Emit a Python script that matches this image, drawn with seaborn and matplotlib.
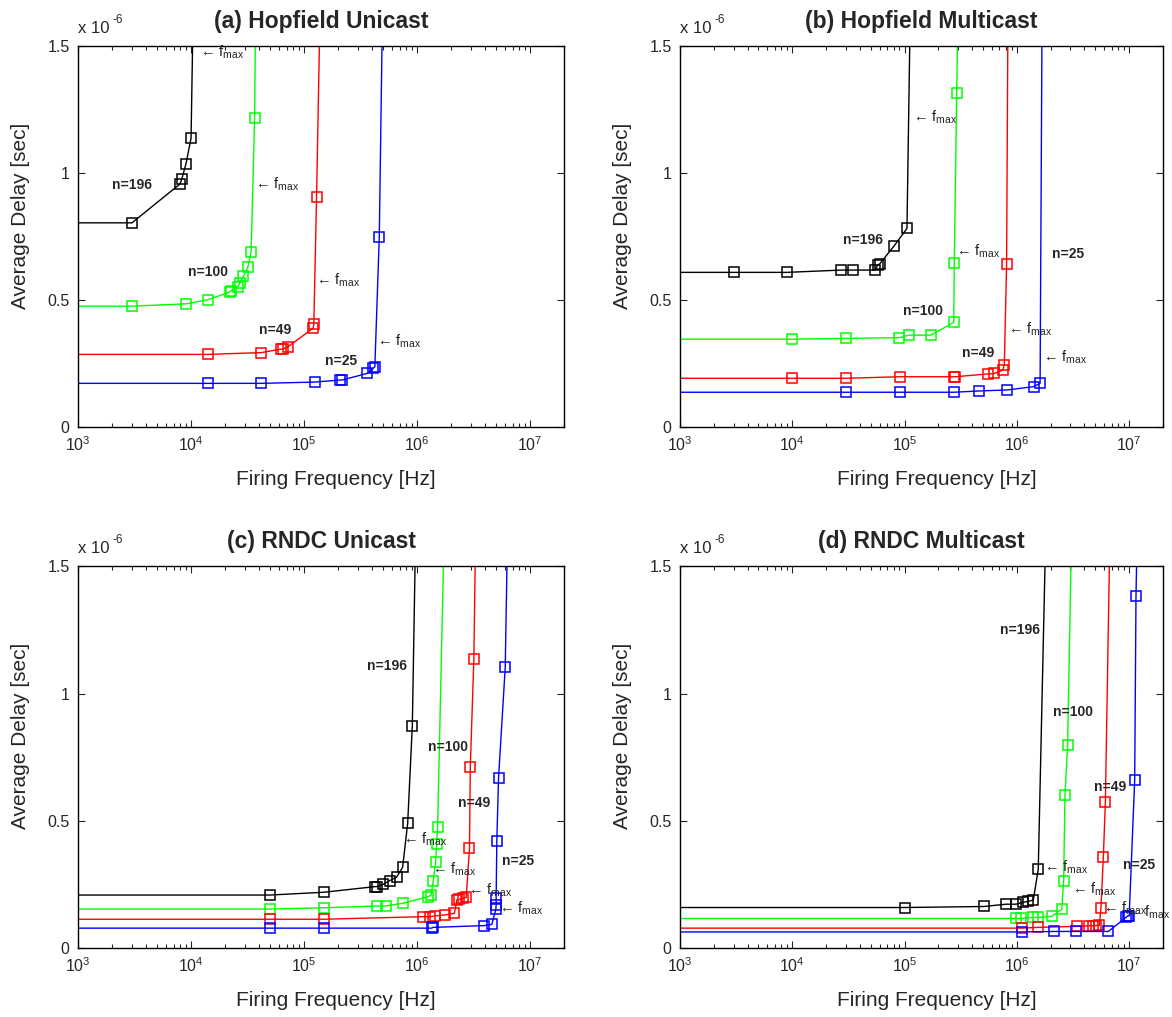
import numpy as np
import pandas as pd
import matplotlib
matplotlib.use("Agg")
import matplotlib.pyplot as plt
import seaborn as sns
from matplotlib.ticker import LogLocator, FixedLocator, FuncFormatter, NullFormatter

# ---- data: firing frequency [Hz] and average delay [x 1e-6 sec] ----
# (first point at 1e2 and last point above 1.5 only carry the line to the frame edges)

# (a) Hopfield Unicast
hu196_f = [1e2, 3.0e3, 7.98e3, 8.27e3, 9.0e3, 1.0e4, 1.04e4]
hu196_d = [0.804, 0.804, 0.957, 0.976, 1.035, 1.137, 1.6]
hu100_f = [1e2, 3.0e3, 9.0e3, 1.40e4, 2.19e4, 2.26e4, 2.59e4, 2.7e4, 2.91e4, 3.18e4, 3.40e4, 3.65e4, 3.72e4]
hu100_d = [0.476, 0.476, 0.485, 0.501, 0.531, 0.537, 0.552, 0.566, 0.594, 0.629, 0.690, 1.215, 1.6]
hu49_f = [1e2, 1.40e4, 4.18e4, 6.29e4, 6.5e4, 7.2e4, 1.20e5, 1.22e5, 1.29e5, 1.38e5]
hu49_d = [0.286, 0.286, 0.293, 0.307, 0.307, 0.316, 0.389, 0.405, 0.907, 1.6]
hu25_f = [1e2, 1.40e4, 4.18e4, 1.24e5, 2.07e5, 2.17e5, 3.61e5, 4.08e5, 4.23e5, 4.63e5, 4.93e5]
hu25_d = [0.172, 0.172, 0.172, 0.177, 0.185, 0.185, 0.211, 0.231, 0.237, 0.747, 1.6]

# (b) Hopfield Multicast
hm196_f = [1e2, 3.0e3, 9.0e3, 2.72e4, 3.45e4, 5.48e4, 5.75e4, 6.0e4, 8.09e4, 1.05e5, 1.12e5]
hm196_d = [0.609, 0.609, 0.609, 0.618, 0.618, 0.618, 0.638, 0.642, 0.714, 0.782, 1.6]
hm100_f = [1e2, 1e4, 3.0e4, 8.97e4, 1.10e5, 1.72e5, 2.74e5, 2.77e5, 2.91e5, 2.98e5]
hm100_d = [0.346, 0.346, 0.349, 0.352, 0.362, 0.362, 0.412, 0.644, 1.314, 1.6]
hm49_f = [1e2, 1e4, 3.0e4, 9.1e4, 2.74e5, 2.83e5, 5.5e5, 6.3e5, 7.48e5, 7.73e5, 8.1e5, 8.32e5]
hm49_d = [0.192, 0.192, 0.192, 0.198, 0.198, 0.198, 0.209, 0.211, 0.224, 0.244, 0.640, 1.6]
hm25_f = [1e2, 3.0e4, 9.1e4, 2.74e5, 4.6e5, 8.2e5, 1.41e6, 1.61e6, 1.675e6]
hm25_d = [0.137, 0.137, 0.137, 0.137, 0.142, 0.146, 0.159, 0.172, 1.6]

# (c) RNDC Unicast
ru196_f = [1e2, 5e4, 1.5e5, 4.23e5, 4.43e5, 5.0e5, 5.74e5, 6.59e5, 7.45e5, 8.26e5, 9.08e5, 9.68e5]
ru196_d = [0.209, 0.209, 0.220, 0.242, 0.242, 0.251, 0.266, 0.279, 0.318, 0.491, 0.874, 1.6]
ru100_f = [1e2, 5e4, 1.5e5, 4.43e5, 5.3e5, 7.55e5, 1.26e6, 1.33e6, 1.39e6, 1.46e6, 1.49e6, 1.52e6, 1.73e6]
ru100_d = [0.154, 0.154, 0.159, 0.166, 0.166, 0.177, 0.203, 0.209, 0.264, 0.340, 0.410, 0.478, 1.6]
ru49_f = [1e2, 5e4, 1.5e5, 1.12e6, 1.30e6, 1.44e6, 1.77e6, 2.14e6, 2.25e6, 2.37e6, 2.54e6, 2.72e6,
          2.91e6, 2.96e6, 3.18e6, 3.29e6]
ru49_d = [0.114, 0.114, 0.114, 0.124, 0.124, 0.127, 0.131, 0.137, 0.190, 0.192, 0.196, 0.200,
          0.393, 0.713, 1.135, 1.6]
ru25_f = [1e2, 5e4, 1.5e5, 1.35e6, 1.38e6, 3.95e6, 4.59e6, 4.98e6, 5.01e6, 5.01e6, 5.08e6, 5.26e6, 6.03e6, 6.3e6]
ru25_d = [0.079, 0.079, 0.079, 0.079, 0.082, 0.089, 0.094, 0.153, 0.170, 0.196, 0.423, 0.668, 1.104, 1.6]

# (d) RNDC Multicast
rm196_f = [1e2, 1e5, 5.06e5, 8.0e5, 9.8e5, 1.13e6, 1.25e6, 1.40e6, 1.55e6, 1.80e6]
rm196_d = [0.160, 0.160, 0.164, 0.173, 0.173, 0.180, 0.184, 0.189, 0.310, 1.6]
rm100_f = [1e2, 9.8e5, 1.09e6, 1.38e6, 1.53e6, 2.04e6, 2.51e6, 2.61e6, 2.68e6, 2.83e6, 3.06e6]
rm100_d = [0.117, 0.117, 0.117, 0.121, 0.121, 0.125, 0.153, 0.265, 0.601, 0.797, 1.6]
rm49_f = [1e2, 1.1e6, 1.53e6, 3.4e6, 4.41e6, 4.73e6, 5.06e6, 5.42e6, 5.61e6, 5.89e6, 6.14e6, 6.72e6]
rm49_d = [0.079, 0.079, 0.082, 0.086, 0.088, 0.088, 0.089, 0.090, 0.160, 0.360, 0.575, 1.6]
rm25_f = [1e2, 1.1e6, 2.15e6, 3.36e6, 6.52e6, 9.37e6, 9.7e6, 1.0e7, 1.12e7, 1.15e7, 1.175e7]
rm25_d = [0.064, 0.064, 0.066, 0.066, 0.066, 0.121, 0.127, 0.127, 0.661, 1.383, 1.6]

titles = ["(a) Hopfield Unicast", "(b) Hopfield Multicast", "(c) RNDC Unicast", "(d) RNDC Multicast"]
sizes = [196, 100, 49, 25]
colors = {196: "#000000", 100: "#00ff00", 49: "#ff0000", 25: "#0000ff"}

series = [
    {196: (hu196_f, hu196_d), 100: (hu100_f, hu100_d), 49: (hu49_f, hu49_d), 25: (hu25_f, hu25_d)},
    {196: (hm196_f, hm196_d), 100: (hm100_f, hm100_d), 49: (hm49_f, hm49_d), 25: (hm25_f, hm25_d)},
    {196: (ru196_f, ru196_d), 100: (ru100_f, ru100_d), 49: (ru49_f, ru49_d), 25: (ru25_f, ru25_d)},
    {196: (rm196_f, rm196_d), 100: (rm100_f, rm100_d), 49: (rm49_f, rm49_d), 25: (rm25_f, rm25_d)},
]

# label spots: (x, y) for "n=..." and for the f_max arrows
n_labels = [
    {196: (3.0e3, 0.953), 100: (1.40e4, 0.610), 49: (5.6e4, 0.382), 25: (2.11e5, 0.260)},
    {196: (4.27e4, 0.736), 100: (1.46e5, 0.457), 49: (4.51e5, 0.291), 25: (2.85e6, 0.681)},
    {196: (5.41e5, 1.109), 100: (1.88e6, 0.792), 49: (3.2e6, 0.570), 25: (7.85e6, 0.343)},
    {196: (1.06e6, 1.252), 100: (3.16e6, 0.928), 49: (6.75e6, 0.635), 25: (1.22e7, 0.326)},
]
fmax_spots = [
    [(1.19e4, 1.476), (3.65e4, 0.957), (1.28e5, 0.579), (4.38e5, 0.339)],
    [(1.18e5, 1.219), (2.87e5, 0.690), (8.28e5, 0.385), (1.70e6, 0.273)],
    [(7.5e5, 0.428), (1.36e6, 0.311), (2.85e6, 0.226), (5.36e6, 0.157)],
    [(1.75e6, 0.319), (3.08e6, 0.232), (5.8e6, 0.156), (9.35e6, 0.142)],
]

sns.set_theme(style="ticks")
plt.rcParams["font.family"] = ["Liberation Sans", "DejaVu Sans"]
plt.rcParams["mathtext.fontset"] = "custom"
plt.rcParams["mathtext.rm"] = "Liberation Sans"
plt.rcParams["mathtext.it"] = "Liberation Sans:italic"
plt.rcParams["mathtext.bf"] = "Liberation Sans:bold"
plt.rcParams["mathtext.default"] = "regular"

fig = plt.figure(figsize=(11.72, 10.17), dpi=100)
boxes = [
    [0.0666, 0.5801, 0.4147, 0.3746],
    [0.5802, 0.5801, 0.4121, 0.3746],
    [0.0666, 0.0676, 0.4147, 0.3755],
    [0.5802, 0.0676, 0.4121, 0.3755],
]

for i, box in enumerate(boxes):
    ax = fig.add_axes(box)
    for n in sizes:
        f, d = series[i][n]
        df = pd.DataFrame({"freq": f, "delay": d})
        sns.lineplot(data=df, x="freq", y="delay", ax=ax, sort=False, estimator=None,
                     color=colors[n], lw=1.0, marker="s", markersize=7.5,
                     markerfacecolor="none", markeredgecolor=colors[n], markeredgewidth=1.1)
        tx, ty = n_labels[i][n]
        ax.text(tx, ty, "n=%d" % n, ha="center", va="center", fontsize=10, fontweight="bold")
    for (fx, fy) in fmax_spots[i]:
        ax.text(fx, fy, "\u2190 f$_{max}$", ha="left", va="center", fontsize=10.5, color="#222222")

    ax.set_xscale("log")
    ax.set_xlim(1e3, 2e7)
    ax.set_ylim(0, 1.5)
    ax.xaxis.set_major_locator(LogLocator(base=10, numticks=10))
    ax.xaxis.set_minor_locator(LogLocator(base=10, subs=np.arange(2, 10), numticks=20))
    ax.xaxis.set_minor_formatter(NullFormatter())
    ax.yaxis.set_major_locator(FixedLocator([0, 0.5, 1.0, 1.5]))
    ax.yaxis.set_major_formatter(FuncFormatter(lambda v, p: "%g" % v))
    ax.tick_params(which="both", direction="in", top=True, right=True, labelsize=11.5, width=0.8)
    ax.tick_params(which="major", length=5, pad=6)
    ax.tick_params(which="minor", length=3)
    for s in ax.spines.values():
        s.set_linewidth(1.0)
        s.set_color("black")
    ax.set_xlabel("Firing Frequency [Hz]", fontsize=15)
    ax.set_ylabel("Average Delay [sec]", fontsize=15)
    ax.xaxis.set_label_coords(0.531, -0.113)
    ax.yaxis.set_label_coords(-0.099, 0.555)
    ax.set_title(titles[i], fontsize=16.5, fontweight="bold", pad=13)
    # offset text of the y axis, written with a plain hyphen as in the original
    ax.text(0.0, 1.035, "x 10", transform=ax.transAxes, ha="left", va="baseline", fontsize=12)
    ax.annotate("-6", xy=(0.0, 1.035), xycoords="axes fraction", xytext=(25, 7),
                textcoords="offset points", ha="left", va="baseline", fontsize=8.5)

fig.savefig("out.png", dpi=100)
